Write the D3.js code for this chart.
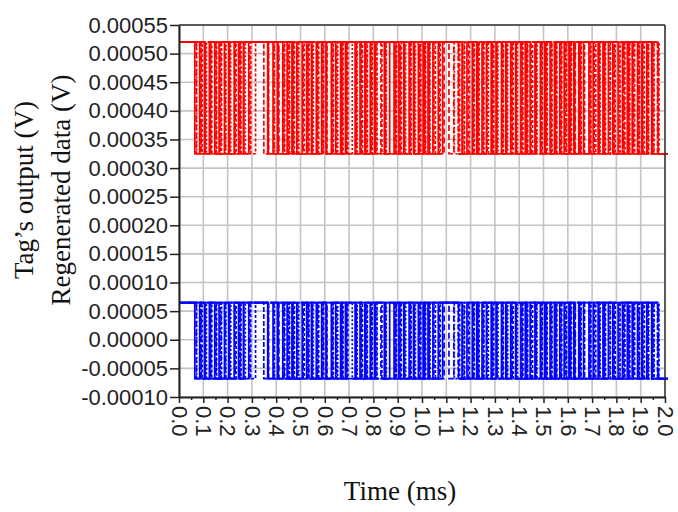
<!DOCTYPE html>
<html>
<head>
<meta charset="utf-8">
<script src="https://cdn.jsdelivr.net/npm/d3@7/dist/d3.min.js"></script>
<style>
  body { margin: 0; background: #fff; }
  svg { display: block; }
  .tick text { font-family: "Liberation Sans", Arial, sans-serif; font-size: 22px; fill: #222; }
  .title { font-family: "Liberation Serif", "Times New Roman", serif; font-size: 27px; fill: #111; }
</style>
</head>
<body>
<svg id="chart" width="678" height="512"></svg>
<script>
// axis ticks
const xTicks = [0.0, 0.1, 0.2, 0.3, 0.4, 0.5, 0.6, 0.7, 0.8, 0.9, 1.0,
  1.1, 1.2, 1.3, 1.4, 1.5, 1.6, 1.7, 1.8, 1.9, 2.0];
const xMinorTicks = [0.05, 0.15, 0.25, 0.35, 0.45, 0.55, 0.65, 0.75, 0.85, 0.95,
  1.05, 1.15, 1.25, 1.35, 1.45, 1.55, 1.65, 1.75, 1.85, 1.95];
const yTicks = [-0.0001, -0.00005, 0, 0.00005, 0.0001, 0.00015, 0.0002, 0.00025,
  0.0003, 0.00035, 0.0004, 0.00045, 0.0005, 0.00055];

// bit timing (ms)
const bitStart = 0.065;
const bitWidth = 0.02;
const tEnd = 2.0;

// signal levels (V): [low, high]
const tagLevels = [0.000325, 0.00052];
const regenLevels = [-0.000068, 0.000065];

// overlaid bit streams and their small delays (ms)
const streams = [
  "010110011011111001101001011001011010011001011010100111101100101101001011001101010010110010110100",
  "101001100111110110010110100110100101100110100101011111000011010010110100110010101101001101001010",
  "001101011011111100100110110010110110100110010110111110011010110100101101010101100110100110011010",
  "110100101101111010110011001011011001011011101001001111100101101011010010101001011001011001101100",
  "011011001001111101001101101100100100110110110010110101001010011001101101010110100110110010100110",
  "100101110110111111010010010011011101010001001101101111010101100110010110101010011011010101010010"
];
const streamDelay = [0, 0.004, 0.008, 0.002, 0.006, 0.010];

const svg = d3.select("#chart");
const margin = { top: 25, right: 13, bottom: 115, left: 179 };
const width = 678 - margin.left - margin.right;
const height = 512 - margin.top - margin.bottom;

const x = d3.scaleLinear().domain([0, 2.0]).range([0, width]);
const y = d3.scaleLinear().domain([-0.0001, 0.00055]).range([height, 0]);

const g = svg.append("g")
  .attr("transform", "translate(" + margin.left + "," + margin.top + ")");

// grid
g.append("g")
  .selectAll("line")
  .data(xTicks)
  .enter()
  .append("line")
  .attr("x1", d => x(d)).attr("x2", d => x(d))
  .attr("y1", 0).attr("y2", height)
  .attr("stroke", "#c4c4c4").attr("stroke-width", 1.6);

g.append("g")
  .selectAll("line")
  .data(yTicks)
  .enter()
  .append("line")
  .attr("x1", 0).attr("x2", width)
  .attr("y1", d => y(d)).attr("y2", d => y(d))
  .attr("stroke", "#c4c4c4").attr("stroke-width", 1.6);

// build step points from a bit string
function stepPoints(bits, levels, delay) {
  const pts = [{ t: 0, v: levels[1] }];
  for (let i = 0; i < bits.length; i++) {
    pts.push({ t: bitStart + delay + i * bitWidth, v: levels[+bits[i]] });
  }
  pts.push({ t: tEnd + 0.012, v: levels[+bits[bits.length - 1]] });
  return pts;
}

const line = d3.line()
  .x(d => x(d.t))
  .y(d => y(d.v))
  .curve(d3.curveStepAfter);

const dashes = ["", "5,2", "2,2", "", "6,3", "3,2"];

function drawSignal(levels, color) {
  streams.forEach((s, i) => {
    g.append("path")
      .attr("d", line(stepPoints(s, levels, streamDelay[i])))
      .attr("fill", "none")
      .attr("stroke", color)
      .attr("stroke-width", 1.7)
      .attr("stroke-dasharray", dashes[i]);
  });
}

drawSignal(tagLevels, "#ff0000");
drawSignal(regenLevels, "#0000ff");

// frame top/right
g.append("line").attr("x1", 0).attr("x2", width).attr("y1", 0).attr("y2", 0)
  .attr("stroke", "#333").attr("stroke-width", 1.5);
g.append("line").attr("x1", width).attr("x2", width).attr("y1", 0).attr("y2", height)
  .attr("stroke", "#333").attr("stroke-width", 1.5);

// axes
const xAxis = g.append("g")
  .attr("transform", "translate(0," + height + ")")
  .call(d3.axisBottom(x).tickValues(xTicks).tickSize(6).tickSizeOuter(0)
    .tickFormat(d => d.toFixed(1)));
xAxis.selectAll("text")
  .attr("x", 9)
  .attr("y", 0)
  .attr("dy", "0.35em")
  .attr("transform", "rotate(90)")
  .style("text-anchor", "start");

g.append("g")
  .attr("transform", "translate(0," + height + ")")
  .call(d3.axisBottom(x).tickValues(xMinorTicks).tickSize(3).tickFormat(""))
  .select(".domain").remove();

const yAxis = g.append("g")
  .call(d3.axisLeft(y).tickValues(yTicks).tickSize(9).tickSizeOuter(0)
    .tickFormat(d => d.toFixed(5)));
yAxis.selectAll("text").attr("x", -11);

svg.selectAll(".domain").attr("stroke", "#222").attr("stroke-width", 2);
svg.selectAll(".tick line").attr("stroke", "#222").attr("stroke-width", 1.5);

// titles
svg.append("text")
  .attr("class", "title")
  .attr("transform", "translate(33,190) rotate(-90)")
  .attr("text-anchor", "middle")
  .text("Tag’s output (V)");
svg.append("text")
  .attr("class", "title")
  .attr("transform", "translate(70,190) rotate(-90)")
  .attr("text-anchor", "middle")
  .text("Regenerated data (V)");
svg.append("text")
  .attr("class", "title")
  .attr("x", 400)
  .attr("y", 500)
  .attr("text-anchor", "middle")
  .text("Time (ms)");
</script>
</body>
</html>
